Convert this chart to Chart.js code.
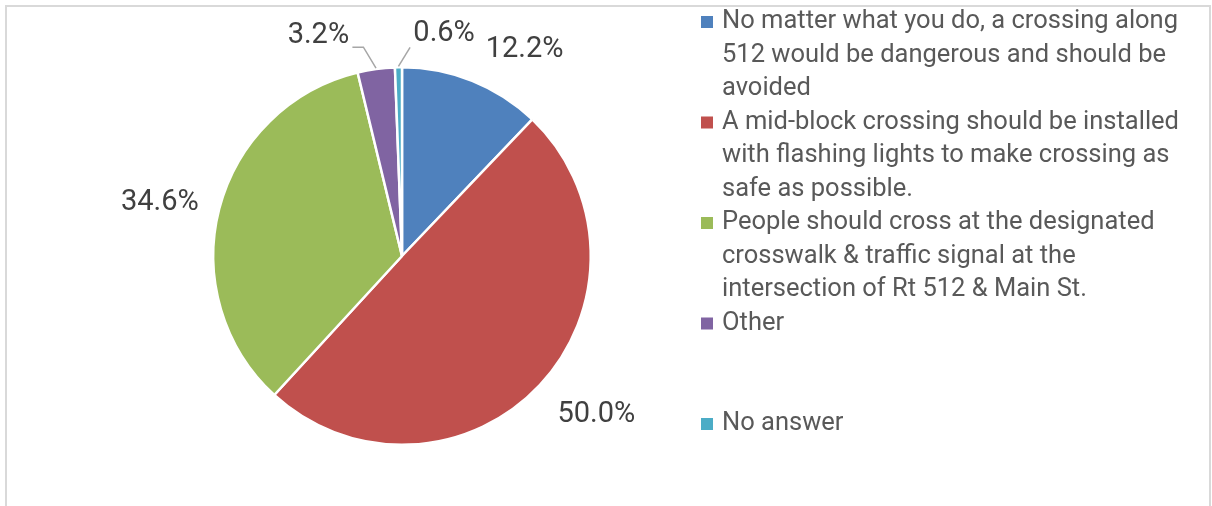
<!DOCTYPE html>
<html>
<head>
<meta charset="utf-8">
<script src="https://cdn.jsdelivr.net/npm/chart.js@4.4.1/dist/chart.umd.min.js"></script>
<style>
  html, body { margin: 0; padding: 0; background: #fff; }
  #wrap { width: 1212px; height: 506px; }
</style>
</head>
<body>
<div id="wrap"><canvas id="chartPie" width="1212" height="506"></canvas></div>
<script>
const categories = [
  ['No matter what you do, a crossing along', '512 would be dangerous and should be', 'avoided'],
  ['A mid-block crossing should be installed', 'with flashing lights to make crossing as', 'safe as possible.'],
  ['People should cross at the designated', 'crosswalk & traffic signal at the', 'intersection of Rt 512 & Main St.'],
  ['Other'],
  ['No answer']
];
const values = [12.2, 50.0, 34.6, 3.2, 0.6];
const colors = ['#4F81BD', '#C0504D', '#9BBB59', '#8064A2', '#4BACC6'];

// label placement tweaks (px) relative to a point just outside each slice
const labelOffsets = [[45, -12], [42, 16], [-40, -1], [-55, -13], [46, -14]];
// leader lines for the thin slices: elbow offset and optional tail end x offset
const leaders = {
  3: { elbow: [-10, -2], tail: -21 },
  4: { elbow: [12, 0], tail: null }
};

const framePlugin = {
  id: 'frame',
  beforeDraw(chart) {
    const ctx = chart.ctx;
    ctx.save();
    ctx.strokeStyle = '#d9d9d9';
    ctx.lineWidth = 2;
    ctx.strokeRect(6, 6, 1204, 540);
    ctx.restore();
  }
};

const pieLabels = {
  id: 'pieLabels',
  afterDatasetsDraw(chart) {
    const ctx = chart.ctx;
    const meta = chart.getDatasetMeta(0);
    ctx.save();
    meta.data.forEach((arc, i) => {
      const p = arc.getProps(['x', 'y', 'startAngle', 'endAngle', 'outerRadius'], true);
      const mid = (p.startAngle + p.endAngle) / 2;
      const cx = Math.cos(mid), cy = Math.sin(mid);
      const bx = p.x + cx * (p.outerRadius + 20);
      const by = p.y + cy * (p.outerRadius + 20);
      const lx = bx + labelOffsets[i][0];
      const ly = by + labelOffsets[i][1];
      const ld = leaders[i];
      if (ld) {
        ctx.strokeStyle = '#a6a6a6';
        ctx.lineWidth = 1.5;
        ctx.beginPath();
        ctx.moveTo(p.x + cx * (p.outerRadius + 1), p.y + cy * (p.outerRadius + 1));
        const ex = bx + ld.elbow[0], ey = by + ld.elbow[1];
        ctx.lineTo(ex, ey);
        if (ld.tail !== null) ctx.lineTo(bx + ld.tail, ey);
        ctx.stroke();
      }
      ctx.fillStyle = '#404040';
      ctx.font = '29px Roboto';
      ctx.textAlign = 'center';
      ctx.textBaseline = 'middle';
      ctx.fillText(values[i].toFixed(1) + '%', lx, ly);
    });
    ctx.restore();
  }
};

const sideLegend = {
  id: 'sideLegend',
  afterDraw(chart) {
    const ctx = chart.ctx;
    const x0 = 701, tx = 722, y0 = 22, step = 100.5, lh = 33.5;
    ctx.save();
    ctx.font = '25.5px Roboto';
    ctx.textAlign = 'left';
    ctx.textBaseline = 'middle';
    categories.forEach((lines, i) => {
      const y = y0 + step * i;
      ctx.fillStyle = colors[i];
      ctx.fillRect(x0, y - 6, 12, 12);
      ctx.fillStyle = '#595959';
      lines.forEach((t, j) => ctx.fillText(t, tx, y + j * lh));
    });
    ctx.restore();
  }
};

const ctxPie = document.getElementById('chartPie').getContext('2d');
new Chart(ctxPie, {
  type: 'pie',
  data: {
    labels: categories.map(c => c.join(' ')),
    datasets: [{
      data: values,
      backgroundColor: colors,
      borderColor: '#ffffff',
      borderWidth: 2.5
    }]
  },
  options: {
    responsive: false,
    animation: false,
    layout: { padding: { left: 212, right: 620, top: 66, bottom: 60 } },
    plugins: {
      legend: { display: false },
      tooltip: { enabled: false }
    }
  },
  plugins: [framePlugin, pieLabels, sideLegend]
});
</script>
</body>
</html>
